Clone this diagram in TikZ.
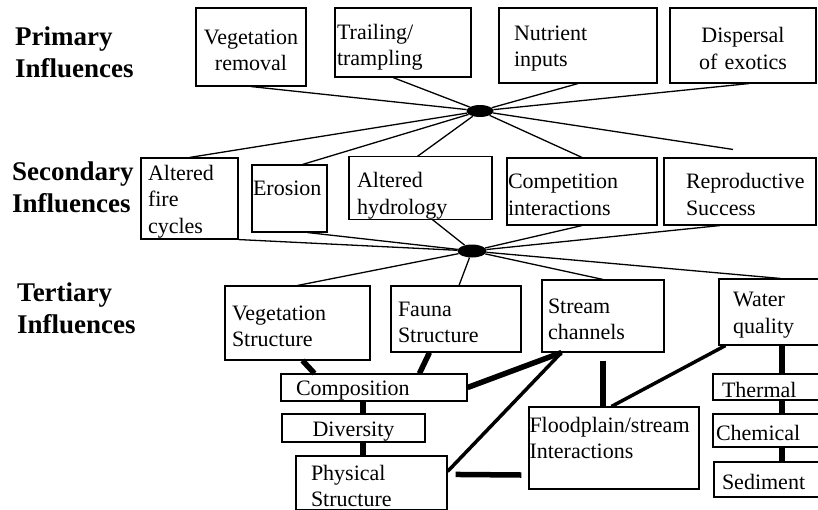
\documentclass[tikz,border=0pt]{standalone}
\usepackage{fontspec}
\setmainfont{Liberation Serif}
\usetikzlibrary{calc,shapes.geometric}

\begin{document}
\begin{tikzpicture}[
    x=1pt,y=-1pt,
    box/.style={draw,line width=1.1pt,inner xsep=0pt,inner ysep=0pt,align=left,font=\fontsize{22}{26.5}\selectfont,execute at begin node={\rule{0pt}{21pt}}},
    tier/.style={anchor=base west,inner sep=0pt,align=left,font=\fontsize{27}{32}\selectfont\bfseries},
    hub/.style={ellipse,fill=black,inner sep=0pt},
    wire/.style={line width=1.3pt},
    midwire/.style={line width=3.5pt},
    heavywire/.style={line width=5.5pt}
  ]
  \useasboundingbox (0,0) rectangle (818,509);
  \fill[white] (0,0) rectangle (818,509);
  \clip (0,0) rectangle (818,509);

  % row labels
  \node[tier] (primary) at (15,77) {Primary\\Influences};
  \node[tier] (secondary) at (12,212) {Secondary\\Influences};
  \node[tier] (tertiary) at (17,333) {Tertiary\\Influences};

  % primary influences
  \node[box,minimum width=110pt,minimum height=78pt,text width=96pt,align=center] (vegrem) at (251,47) {Vegetation\\removal};
  \node[box,minimum width=136pt,minimum height=69pt,text width=132pt] (trail) at (403,42.5) {\rule{0pt}{25pt}Trailing/\\trampling};
  \node[box,minimum width=158pt,minimum height=75pt,text width=128pt] (nutr) at (578,45.5) {Nutrient\\inputs};
  \node[box,minimum width=146pt,minimum height=75pt,text width=120pt,align=center] (disp) at (743,45.5) {Dispersal\\of exotics};

  % secondary influences
  \node[box,minimum width=97pt,minimum height=81pt,text width=83pt] (fire) at (189.5,198.5) {Altered\\fire\\cycles};
  \node[box,minimum width=75pt,minimum height=67pt,text width=73pt] (eros) at (289.5,198.5) {Erosion\\\mbox{}};
  \node[box,minimum width=143pt,minimum height=60pt,text width=127pt] (hydro) at (420.5,188) {\rule{0pt}{31pt}Altered\\hydrology};
  \node[box,minimum width=150pt,minimum height=67pt,text width=148pt] (comp) at (582,191.5) {Competition\\interactions};
  \node[box,minimum width=152pt,minimum height=67pt,text width=108pt] (repro) at (740,191.5) {Reproductive\\Success};

  % tertiary influences
  \node[box,minimum width=145pt,minimum height=74pt,text width=131pt] (vegs) at (297.5,323) {Vegetation\\Structure};
  \node[box,minimum width=130pt,minimum height=66pt,text width=116pt] (fauna) at (456,319) {Fauna\\Structure};
  \node[box,minimum width=122pt,minimum height=72pt,text width=110pt] (stream) at (603,316) {Stream\\channels};
  \node[box,minimum width=111pt,minimum height=66pt,text width=83pt] (water) at (774.5,312) {Water\\quality};

  \node[box,minimum width=186pt,minimum height=27pt,text width=156pt] (compo) at (374,387.5) {Composition};
  \node[box,minimum width=143pt,minimum height=28pt,text width=135pt,align=center] (divers) at (353.5,428) {Diversity};
  \node[box,minimum width=151pt,minimum height=54pt,text width=121pt] (phys) at (371.5,483) {Physical\\Structure};
  \node[box,minimum width=170pt,minimum height=82pt,text width=169pt] (flood) at (614,448) {Floodplain/stream\\Interactions\\\mbox{}};

  \node[box,minimum width=117pt,minimum height=26pt,text width=99pt] (therm) at (771.5,387) {Thermal};
  \node[box,minimum width=117pt,minimum height=33pt,text width=111pt] (chem) at (771.5,430.5) {Chemical};
  \node[box,minimum width=116pt,minimum height=35pt,text width=100pt] (sed) at (772,479.5) {Sediment};

  % hubs
  \node[hub,minimum width=27pt,minimum height=12pt] (hub1) at (480,111) {};
  \node[hub,minimum width=29pt,minimum height=13pt] (hub2) at (472,251) {};

  % primary -> hub -> secondary
  \draw[wire] (vegrem.south) -- (hub1);
  \draw[wire] ($(trail.south)+(-10,0)$) -- (hub1);
  \draw[wire] (nutr.south) -- (hub1);
  \draw[wire] ($(disp.south)+(6,0)$) -- (hub1);
  \draw[wire] (hub1) -- (fire.north);
  \draw[wire] (hub1) -- ($(eros.north)+(13,0)$);
  \draw[wire] (hub1) -- ($(hydro.north)+(-3,0)$);
  \draw[wire] (hub1) -- (comp.north);
  \draw[wire] (hub1) -- ($(repro.north)+(-7,-8)$);

  % secondary -> hub -> tertiary
  \draw[wire] (fire.south east) -- (hub2);
  \draw[wire] ($(eros.south)+(18,0)$) -- (hub2);
  \draw[wire] ($(hydro.south)+(12,0)$) -- (hub2);
  \draw[wire] (comp.south) -- (hub2);
  \draw[wire] ($(repro.south)+(-20,0)$) -- (hub2);
  \draw[wire] (hub2) -- (vegs.north);
  \draw[wire] (hub2) -- ($(fauna.north)+(3,0)$);
  \draw[wire] (hub2) -- (stream.north);
  \draw[wire] (hub2) -- ($(water.north)+(6,0)$);

  % tertiary links
  \coordinate (spine) at (363,0);
  \coordinate (wq) at (782,0);
  \draw[heavywire] ($(vegs.south)+(5,0)$) -- ($(compo.north west)+(34,0)$);
  \draw[heavywire] ($(fauna.south west)+(39,0)$) -- ($(compo.north west)+(139,0)$);
  \draw[heavywire] (compo.east) -- ($(stream.south west)+(20,0)$);
  \draw[heavywire] (spine |- compo.south) -- (spine |- divers.north);
  \draw[heavywire] (spine |- divers.south) -- (spine |- phys.north);
  \draw[midwire] ($(phys.north east)+(0,16)$) -- ($(stream.south west)+(20,0)$);
  \draw[heavywire] ($(stream.south)+(0,8)$) -- (stream.south |- flood.north);
  \draw[midwire] ($(water.south west)+(7,0)$) -- ($(flood.north west)+(83,0)$);
  \draw[heavywire] ($(phys.north east)+(8,19)$) -- ($(flood.west)+(-7,27)$);
  \draw[heavywire] (wq |- water.south) -- (wq |- therm.north);
  \draw[heavywire] (wq |- therm.south) -- (wq |- chem.north);
  \draw[heavywire] (wq |- chem.south) -- (wq |- sed.north);
\end{tikzpicture}
\end{document}
